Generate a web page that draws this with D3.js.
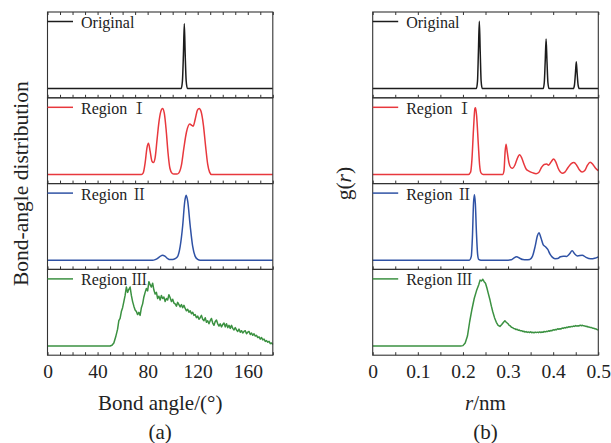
<!DOCTYPE html>
<html>
<head>
<meta charset="utf-8">
<script src="https://cdn.jsdelivr.net/npm/d3@7"></script>
<style>
  body { margin: 0; background: #fff; }
  svg { display: block; }
</style>
</head>
<body>
<svg id="chart" width="611" height="443"></svg>
<script>
// ---- labels, ticks and colours ----
const seriesNames = ["Original", "Region", "Region", "Region"];
const seriesNumerals = ["", "Ⅰ", "Ⅱ", "Ⅲ"];
const seriesColors = ["#1c1c1c", "#e8383d", "#2f52a5", "#3b9141"];
const angleTickLabels = [0, 40, 80, 120, 160];
const angleMinorTicks = d3.range(0, 181, 10);
const rTickLabels = [0, 0.1, 0.2, 0.3, 0.4, 0.5];
const rMinorTicks = d3.range(0, 0.501, 0.05);

// ---- (a) bond-angle distribution, [angle in degrees, intensity] ----
const angleOriginal = [[0,0],[106.8,0],[107.8,0.1],[108.6,0.45],[109.3,0.846],[110,0.45],[110.8,0.1],[111.8,0],[180,0]];
const angleRegion1 = [[0,0],[75,0],[76.5,0.02],[78,0.15],[79.5,0.35],[80.7,0.407],[82,0.3],[83.5,0.17],[84.6,0.155],[86,0.22],[87.5,0.45],[89,0.68],[90.5,0.82],[91.9,0.86],[93.3,0.8],[94.8,0.58],[96.3,0.28],[97.8,0.08],[99.5,0.015],[101,0.005],[103.5,0.005],[105,0.02],[107,0.12],[109,0.35],[111,0.55],[113.7,0.657],[115.3,0.64],[116.4,0.63],[118,0.72],[119.8,0.84],[121.2,0.86],[122.7,0.82],[124.5,0.65],[126.3,0.37],[128,0.13],[129.5,0.03],[131,0],[180,0]];
const angleRegion2 = [[0,0],[84,0],[86,0.008],[88,0.025],[90,0.05],[91.9,0.066],[94,0.05],[96,0.022],[98,0.008],[100,0.008],[102,0.02],[104,0.05],[106,0.18],[108,0.45],[109.6,0.76],[110.8,0.847],[112,0.77],[114,0.45],[116,0.18],[118,0.05],[120,0.01],[122,0],[180,0]];
const angleRegion3 = [[0,0],[50,0],[51.5,0.01],[53,0.04],[54.5,0.12],[56,0.22],[57,0.33],[58,0.36],[59,0.45],[60,0.5],[61,0.58],[62,0.66],[63,0.77],[64,0.7],[65,0.74],[66,0.77],[67,0.66],[68,0.58],[69,0.52],[70,0.47],[71,0.45],[72,0.41],[73,0.44],[74,0.4],[75,0.5],[76,0.55],[77,0.64],[78,0.7],[79,0.75],[80,0.72],[81,0.84],[82,0.8],[83,0.77],[84,0.82],[85,0.73],[86,0.68],[87,0.7],[88,0.62],[89,0.65],[90,0.6],[91,0.66],[92,0.62],[93,0.64],[94,0.58],[95,0.62],[96,0.6],[97,0.67],[98,0.63],[99,0.58],[100,0.61],[101,0.56],[102,0.55],[103,0.52],[104,0.57],[105,0.54],[106,0.51],[107,0.54],[108,0.5],[109,0.53],[110,0.49],[111,0.46],[112,0.48],[113,0.44],[114,0.46],[115,0.42],[116,0.44],[117,0.4],[118,0.41],[119,0.37],[120,0.39],[121,0.35],[122,0.37],[123,0.4],[124,0.35],[125,0.33],[126,0.37],[127,0.31],[128,0.33],[129,0.29],[130,0.33],[131,0.36],[132,0.3],[133,0.27],[134,0.32],[135,0.34],[136,0.29],[137,0.26],[138,0.29],[139,0.25],[140,0.28],[141,0.3],[142,0.25],[143,0.29],[144,0.24],[145,0.27],[146,0.23],[147,0.27],[148,0.23],[149,0.21],[150,0.24],[151,0.21],[152,0.19],[153,0.22],[154,0.18],[155,0.2],[156,0.17],[157,0.19],[158,0.2],[159,0.16],[160,0.18],[161,0.19],[162,0.15],[163,0.17],[164,0.14],[165,0.16],[166,0.13],[167,0.14],[168,0.11],[169,0.12],[170,0.09],[171,0.11],[172,0.08],[173,0.09],[174,0.06],[175,0.07],[176,0.05],[177,0.06],[178,0.03],[179,0.04],[180,0.02]];

// ---- (b) radial distribution g(r), [r in nm, intensity] ----
const rdfOriginal = [[0,0],[0.2298,0],[0.2323,0.1],[0.2343,0.48],[0.2363,0.878],[0.2383,0.48],[0.2403,0.1],[0.2428,0],[0.3778,0],[0.3803,0.08],[0.3823,0.35],[0.3843,0.646],[0.3863,0.35],[0.3883,0.08],[0.3908,0],[0.4447,0],[0.4472,0.05],[0.4492,0.19],[0.4512,0.351],[0.4532,0.19],[0.4552,0.05],[0.4577,0],[0.5,0]];
const rdfRegion1 = [[0,0],[0.212,0],[0.217,0.03],[0.22,0.2],[0.2235,0.6],[0.2265,0.86],[0.228,0.87],[0.2305,0.75],[0.234,0.4],[0.237,0.12],[0.24,0.02],[0.245,0],[0.288,0],[0.291,0.05],[0.2935,0.3],[0.2955,0.395],[0.298,0.3],[0.302,0.15],[0.306,0.09],[0.31,0.08],[0.315,0.12],[0.32,0.2],[0.3255,0.255],[0.33,0.22],[0.335,0.14],[0.34,0.07],[0.347,0.04],[0.355,0.02],[0.362,0.01],[0.368,0.025],[0.374,0.09],[0.38,0.13],[0.3855,0.135],[0.39,0.12],[0.395,0.16],[0.401,0.2],[0.406,0.16],[0.411,0.08],[0.416,0.03],[0.42,0.015],[0.426,0.03],[0.433,0.09],[0.44,0.14],[0.446,0.155],[0.452,0.12],[0.458,0.06],[0.464,0.03],[0.47,0.05],[0.476,0.12],[0.482,0.158],[0.488,0.13],[0.494,0.08],[0.5,0.05]];
const rdfRegion2 = [[0,0],[0.214,0],[0.2185,0.05],[0.221,0.3],[0.2235,0.75],[0.2255,0.856],[0.2275,0.74],[0.23,0.35],[0.2325,0.08],[0.235,0.01],[0.24,0],[0.3,0],[0.307,0.005],[0.312,0.025],[0.319,0.044],[0.326,0.025],[0.333,0.008],[0.34,0.005],[0.348,0.01],[0.354,0.05],[0.36,0.18],[0.365,0.32],[0.3685,0.36],[0.373,0.29],[0.378,0.2],[0.383,0.176],[0.388,0.14],[0.393,0.08],[0.398,0.04],[0.404,0.02],[0.41,0.022],[0.416,0.045],[0.4225,0.053],[0.43,0.05],[0.436,0.08],[0.442,0.123],[0.448,0.08],[0.454,0.055],[0.4645,0.066],[0.472,0.04],[0.483,0.018],[0.492,0.025],[0.5,0.044]];
const rdfRegion3 = [[0,0],[0.195,0],[0.2,0.005],[0.205,0.04],[0.21,0.13],[0.215,0.32],[0.22,0.48],[0.225,0.62],[0.23,0.72],[0.235,0.8],[0.238,0.86],[0.241,0.85],[0.244,0.87],[0.247,0.84],[0.25,0.82],[0.253,0.76],[0.256,0.69],[0.26,0.6],[0.263,0.52],[0.266,0.45],[0.27,0.37],[0.274,0.31],[0.278,0.27],[0.282,0.255],[0.286,0.28],[0.29,0.31],[0.293,0.33],[0.296,0.31],[0.3,0.29],[0.3025,0.27],[0.305,0.262],[0.3075,0.245],[0.31,0.24],[0.3125,0.228],[0.315,0.226],[0.3175,0.215],[0.32,0.218],[0.3225,0.205],[0.325,0.208],[0.3275,0.198],[0.33,0.2],[0.3325,0.19],[0.335,0.193],[0.3375,0.182],[0.34,0.188],[0.3425,0.178],[0.345,0.184],[0.3475,0.176],[0.35,0.186],[0.3525,0.174],[0.355,0.18],[0.3575,0.172],[0.36,0.182],[0.3625,0.175],[0.365,0.181],[0.3675,0.174],[0.37,0.184],[0.3725,0.177],[0.375,0.183],[0.3775,0.179],[0.38,0.19],[0.3825,0.184],[0.385,0.192],[0.3875,0.188],[0.39,0.199],[0.3925,0.193],[0.395,0.203],[0.3975,0.2],[0.4,0.212],[0.4025,0.207],[0.405,0.216],[0.4075,0.213],[0.41,0.225],[0.4125,0.219],[0.415,0.226],[0.4175,0.223],[0.42,0.235],[0.4225,0.23],[0.425,0.24],[0.4275,0.236],[0.43,0.246],[0.4325,0.242],[0.435,0.252],[0.4375,0.247],[0.44,0.256],[0.4425,0.252],[0.445,0.26],[0.4475,0.256],[0.45,0.266],[0.4525,0.259],[0.455,0.265],[0.4575,0.262],[0.46,0.272],[0.4625,0.265],[0.465,0.27],[0.4675,0.263],[0.47,0.262],[0.4725,0.256],[0.475,0.257],[0.4775,0.248],[0.48,0.247],[0.4825,0.24],[0.485,0.241],[0.4875,0.232],[0.49,0.232],[0.4925,0.224],[0.495,0.222],[0.4975,0.214],[0.5,0.21]];

// ---- layout ----
const svg = d3.select("#chart");
const serif = "Liberation Serif";
const numeralFont = "Noto Serif CJK SC";
const textColor = "#222";
const frameColor = "#333";
const panelTops = [12, 97.8, 183.6, 269.4];
const panelH = 85.8;
const plotBottom = panelTops[3] + panelH;

function label(sel, size) {
  return sel.style("font-family", serif).attr("font-size", size).style("fill", textColor);
}

function drawColumn(cfg) {
  const x = d3.scaleLinear().domain(cfg.domain).range([cfg.x0, cfg.x1]);
  const col = svg.append("g");

  cfg.series.forEach((data, i) => {
    const top = panelTops[i];
    const y = d3.scaleLinear().domain([-0.12, 1]).range([top + panelH, top]);
    const g = col.append("g");

    const line = d3.line()
      .x(d => x(d[0]))
      .y(d => y(d[1]))
      .curve(cfg.curves[i]);

    g.append("path")
      .datum(data)
      .attr("fill", "none")
      .attr("stroke", seriesColors[i])
      .attr("stroke-width", 1.5)
      .attr("stroke-linejoin", "round")
      .attr("d", line);

    // inward ticks along the lower edge of every panel
    g.append("g")
      .attr("transform", `translate(0,${top + panelH})`)
      .call(d3.axisBottom(x).tickValues(cfg.minor).tickSize(-3).tickFormat(""))
      .call(s => s.select(".domain").remove())
      .call(s => s.selectAll("line").attr("stroke", frameColor));

    if (i === 0) {
      g.append("g")
        .attr("transform", `translate(0,${top})`)
        .call(d3.axisTop(x).tickValues(cfg.minor).tickSize(-3).tickFormat(""))
        .call(s => s.select(".domain").remove())
        .call(s => s.selectAll("line").attr("stroke", frameColor));
    }

    g.append("rect")
      .attr("x", cfg.x0).attr("y", top)
      .attr("width", cfg.x1 - cfg.x0).attr("height", panelH)
      .attr("fill", "none")
      .attr("stroke", frameColor)
      .attr("stroke-width", 1.1);

    // legend entry
    g.append("line")
      .attr("x1", cfg.x0).attr("x2", cfg.x0 + 25.5)
      .attr("y1", top + 9.5).attr("y2", top + 9.5)
      .attr("stroke", seriesColors[i]).attr("stroke-width", 1.5);
    const t = label(g.append("text")
      .attr("x", cfg.x0 + 33.5).attr("y", top + 16), 16)
      .text(seriesNames[i]);
    if (seriesNumerals[i]) {
      t.append("tspan").text(" ");
      t.append("tspan")
        .style("font-family", numeralFont)
        .text(seriesNumerals[i]);
    }
  });

  // tick labels under the bottom panel
  col.append("g")
    .attr("transform", `translate(0,${plotBottom})`)
    .call(d3.axisBottom(x).tickValues(cfg.labels).tickSize(0).tickFormat(cfg.format))
    .call(s => s.select(".domain").remove())
    .call(s => s.attr("font-family", serif).attr("font-size", 19.5))
    .call(s => label(s.selectAll("text").attr("y", 22.8).attr("dy", null), 19.5));

  const cx = (cfg.x0 + cfg.x1) / 2;
  cfg.title(label(col.append("text")
    .attr("x", cx).attr("y", 410)
    .attr("text-anchor", "middle"), 21));

  label(col.append("text")
    .attr("x", cx).attr("y", 439)
    .attr("text-anchor", "middle"), 21)
    .text(cfg.caption);

  cfg.yTitle(label(col.append("text")
    .attr("transform", `translate(${cfg.yTitleX},${(panelTops[0] + plotBottom) / 2}) rotate(-90)`)
    .attr("text-anchor", "middle"), 21.5));
}

drawColumn({
  domain: [0, 180], x0: 47.5, x1: 272.8,
  series: [angleOriginal, angleRegion1, angleRegion2, angleRegion3],
  curves: [d3.curveMonotoneX, d3.curveMonotoneX, d3.curveMonotoneX, d3.curveLinear],
  minor: angleMinorTicks, labels: angleTickLabels, format: d3.format("d"),
  title: t => t.text("Bond angle/(°)"),
  caption: "(a)",
  yTitleX: 28,
  yTitle: t => t.text("Bond-angle distribution")
});

drawColumn({
  domain: [0, 0.5], x0: 372.7, x1: 598.3,
  series: [rdfOriginal, rdfRegion1, rdfRegion2, rdfRegion3],
  curves: [d3.curveMonotoneX, d3.curveMonotoneX, d3.curveMonotoneX, d3.curveLinear],
  minor: rMinorTicks, labels: rTickLabels, format: d => d === 0 ? "0" : d3.format(".1f")(d),
  title: t => {
    t.append("tspan").style("font-style", "italic").text("r");
    t.append("tspan").text("/nm");
  },
  caption: "(b)",
  yTitleX: 351,
  yTitle: t => {
    t.append("tspan").text("g(");
    t.append("tspan").style("font-style", "italic").text("r");
    t.append("tspan").text(")");
  }
});
</script>
</body>
</html>
